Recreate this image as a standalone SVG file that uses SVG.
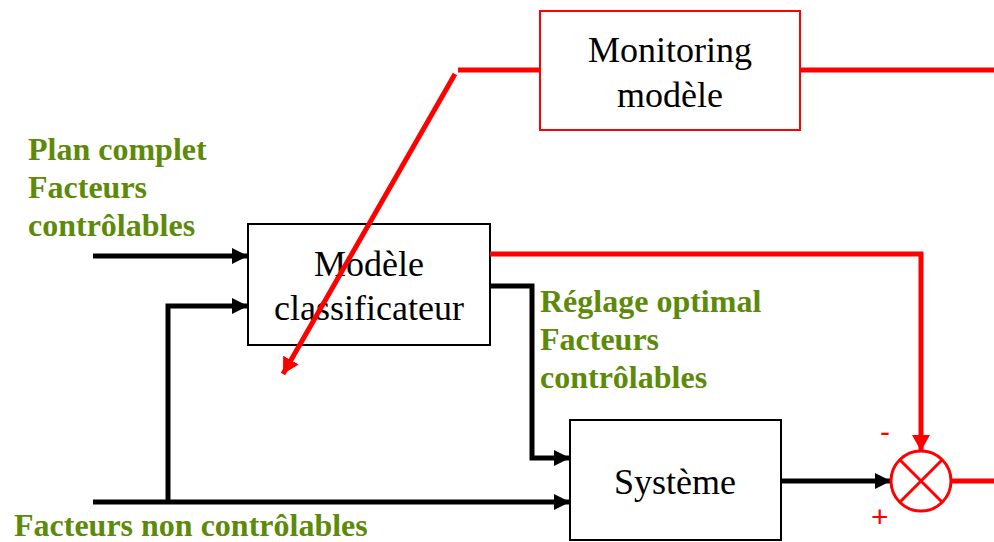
<svg xmlns="http://www.w3.org/2000/svg" width="994" height="542" viewBox="0 0 994 542">
<style>
.box{fill:#fff;stroke:#000;stroke-width:2}
.rbox{fill:#fff;stroke:#ff0000;stroke-width:2}
.lbl{font-family:"Liberation Serif","Times New Roman",serif;font-size:36px;fill:#000;text-anchor:middle}
.grn{font-family:"Liberation Serif","Times New Roman",serif;font-size:32px;font-weight:bold;fill:#5E8A0A}
.bl{fill:none;stroke:#000;stroke-width:5}
.rl{fill:none;stroke:#ff0000;stroke-width:5}
.sign{font-family:"Liberation Sans",Arial,sans-serif;font-size:30px;fill:#ff0000}
</style>
<defs>
<marker id="ab" markerUnits="userSpaceOnUse" markerWidth="18" markerHeight="16" refX="16" refY="8" orient="auto"><path d="M0,0 L16,8 L0,16 Z" fill="#000"/></marker>
<marker id="ar" markerUnits="userSpaceOnUse" markerWidth="18" markerHeight="18" refX="16" refY="9" orient="auto"><path d="M0,0 L16,9 L0,18 Z" fill="#ff0000"/></marker>
</defs>
<g id="monitoring">
<rect class="rbox" x="540" y="11" width="260" height="119"/>
<text class="lbl" x="670" y="62">Monitoring</text>
<text class="lbl" x="670" y="107">modèle</text>
</g>
<g id="modele">
<rect class="box" x="248" y="224" width="242" height="121"/>
<text class="lbl" x="369" y="276">Modèle</text>
<text class="lbl" x="369" y="320">classificateur</text>
</g>
<g id="systeme">
<rect class="box" x="570" y="420" width="211" height="120"/>
<text class="lbl" x="675" y="494">Système</text>
</g>
<g id="connectors">
<path class="bl" d="M93,256 H248" marker-end="url(#ab)"/>
<path class="bl" d="M168,502 V306 H248" marker-end="url(#ab)"/>
<path class="bl" d="M93,502 H570" marker-end="url(#ab)"/>
<path class="bl" d="M490,286 H532 V458 H570" marker-end="url(#ab)"/>
<path class="bl" d="M781,481 H891" marker-end="url(#ab)"/>
<path class="rl" d="M490,254 H921 V451" marker-end="url(#ar)"/>
<path class="rl" d="M951,481 H994"/>
<path class="rl" d="M800,70 H994"/>
<path class="rl" d="M540,70 H458"/>
<path class="rl" d="M455,74 L283,374" marker-end="url(#ar)"/>
</g>
<g id="comparateur">
<circle cx="921" cy="481" r="30" fill="#fff" stroke="#ff0000" stroke-width="3"/>
<path d="M900,460 L942,502 M942,460 L900,502" stroke="#ff0000" stroke-width="3"/>
<text class="sign" x="880" y="442">-</text>
<text class="sign" x="871" y="527">+</text>
</g>
<g id="labels">
<text class="grn" x="28" y="160">Plan complet</text>
<text class="grn" x="28" y="198">Facteurs</text>
<text class="grn" x="28" y="236">contrôlables</text>
<text class="grn" x="540" y="312">Réglage optimal</text>
<text class="grn" x="540" y="350">Facteurs</text>
<text class="grn" x="540" y="388">contrôlables</text>
<text class="grn" x="14" y="536">Facteurs non contrôlables</text>
</g>
</svg>
